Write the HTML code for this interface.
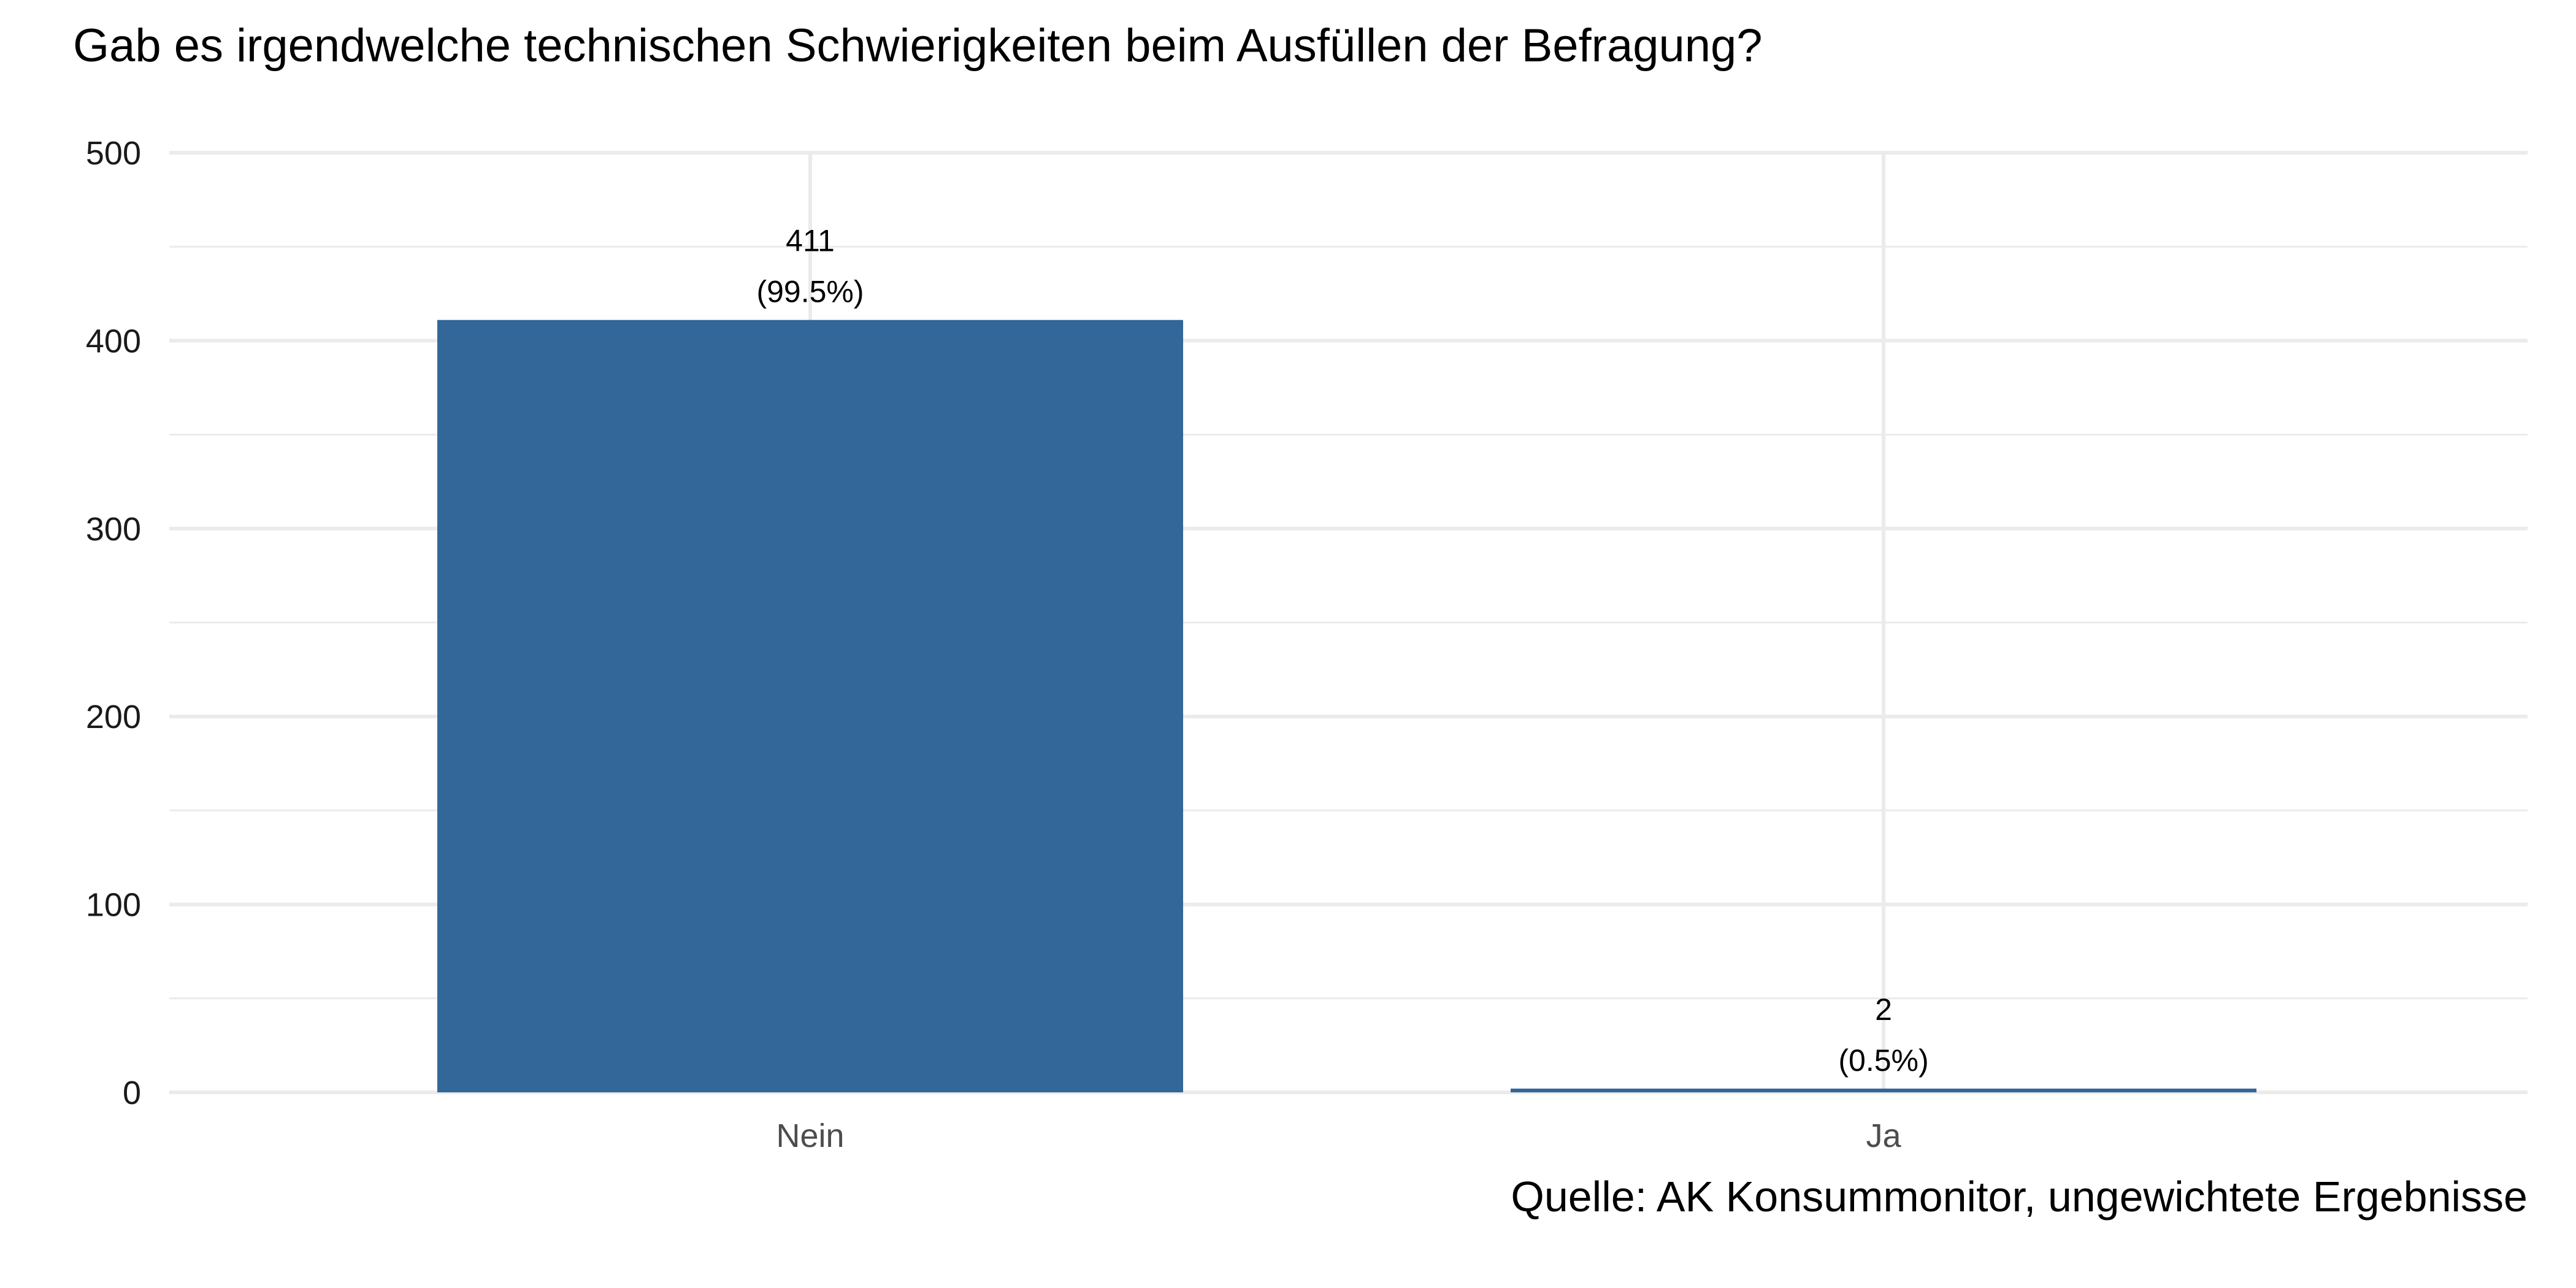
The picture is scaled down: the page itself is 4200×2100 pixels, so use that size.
<!DOCTYPE html>
<html><head><meta charset="utf-8"><style>
html,body{margin:0;padding:0;background:#fff;}
svg{display:block;font-family:"Liberation Sans",sans-serif;}
</style></head><body>
<svg id="chart" width="4200" height="2100" viewBox="0 0 4200 2100">
<text x="119" y="100" font-size="76" fill="#000">Gab es irgendwelche technischen Schwierigkeiten beim Ausfüllen der Befragung?</text>
<g id="grid"></g><g id="bars"></g><g id="labels"></g><g id="axes"></g>
<text x="4121" y="1975" font-size="70" text-anchor="end" fill="#000">Quelle: AK Konsummonitor, ungewichtete Ergebnisse</text>
</svg>
<script>
const categories = ["Nein", "Ja"];
const counts = [411, 2];
const percents = ["99.5%", "0.5%"];
const yTicks = [0, 100, 200, 300, 400, 500];
const yMinor = [50, 150, 250, 350, 450];

const NS = "http://www.w3.org/2000/svg";
const left = 276, right = 4121, y0 = 1781, y500 = 249;
const y = v => y0 - (v / 500) * (y0 - y500);
const x = i => 1321 + i * 1750;
const barW = 1216;
function mk(tag, attrs, parent) {
  const e = document.createElementNS(NS, tag);
  for (const k in attrs) e.setAttribute(k, attrs[k]);
  parent.appendChild(e);
  return e;
}
const grid = document.getElementById("grid");
yMinor.forEach(v => {
  const l = mk("line", {x1: left, x2: right, y1: y(v), y2: y(v), stroke: "#ebebeb", "stroke-width": 3}, grid);
  
  
});
yTicks.forEach(v => {
  const l = mk("line", {x1: left, x2: right, y1: y(v), y2: y(v), stroke: "#ebebeb", "stroke-width": 6}, grid);
  
  
  const t = mk("text", {x: 230, y: y(v) + 19, "font-size": 54, "text-anchor": "end", fill: "#1a1a1a"}, document.getElementById("axes"));
  t.textContent = v;
  
  
});
categories.forEach((c, i) => {
  const l = mk("line", {x1: x(i), x2: x(i), y1: y500, y2: y0, stroke: "#ebebeb", "stroke-width": 6}, grid);
  
  
});
categories.forEach((c, i) => {
  const b = mk("rect", {x: x(i) - barW / 2, y: y(counts[i]), width: barW, height: y0 - y(counts[i]), fill: "#336699"}, document.getElementById("bars"));
  
  
  const top = y(counts[i]);
  const t1 = mk("text", {x: x(i), y: top - 112, "font-size": 50, "text-anchor": "middle", fill: "#000"}, document.getElementById("labels"));
  t1.textContent = counts[i];
  
  
  const t2 = mk("text", {x: x(i), y: top - 29, "font-size": 50, "text-anchor": "middle", fill: "#000"}, document.getElementById("labels"));
  t2.textContent = "(" + percents[i] + ")";
  
  
  const xl = mk("text", {x: x(i), y: 1870, "font-size": 54, "text-anchor": "middle", fill: "#4d4d4d"}, document.getElementById("axes"));
  xl.textContent = c;
  
  
});
</script>
</body></html>
